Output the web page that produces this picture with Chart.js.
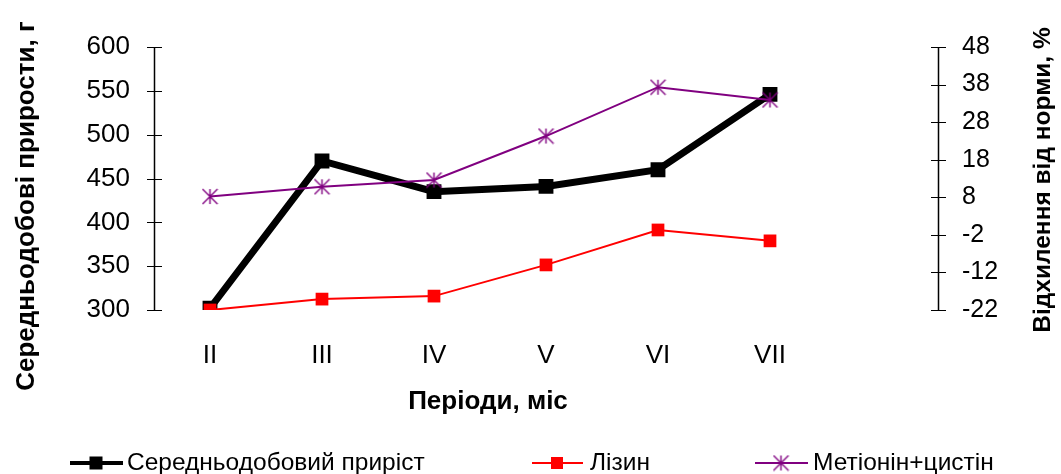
<!DOCTYPE html>
<html>
<head>
<meta charset="utf-8">
<script src="https://cdn.jsdelivr.net/npm/chart.js@4"></script>
<style>
  html, body { margin: 0; padding: 0; background: #fff; }
  #wrap { width: 1061px; height: 474px; position: relative; }
</style>
</head>
<body>
<div id="wrap"><canvas id="chart"></canvas></div>
<script>
// periods (last slot is empty, as in the original sheet)
const periods = ["II", "III", "IV", "V", "VI", "VII", ""]
const dailyGain = [302, 470, 435, 441, 460, 546]
const lysine = [-22, -19.1, -18.3, -10, -0.7, -3.6]
const metCys = [8.2, 10.8, 12.6, 24.3, 37.3, 33.9]
const leftTicks = [300, 350, 400, 450, 500, 550, 600]
const rightTicks = [-22, -12, -2, 8, 18, 28, 38, 48]
const seriesNames = ["Середньодобовий приріст", "Лізин", "Метіонін+цистін"]

const FONT = "'Liberation Sans', Arial, sans-serif"
const purple = "#800080"

// asterisk marker like the spreadsheet one
function makeStar(size, color, lw) {
  const c = document.createElement("canvas")
  c.width = size
  c.height = size
  const g = c.getContext("2d")
  const m = size / 2, r = size / 2 - 1
  g.strokeStyle = color
  g.lineWidth = lw
  g.beginPath()
  g.moveTo(m - r, m - r); g.lineTo(m + r, m + r)
  g.moveTo(m + r, m - r); g.lineTo(m - r, m + r)
  g.moveTo(m, m - r); g.lineTo(m, m + r)
  g.stroke()
  return c
}
const star = makeStar(17, purple, 1.4)

function drawSquare(ctx, x, y, s, color) {
  ctx.fillStyle = color
  ctx.fillRect(x - s / 2, y - s / 2, s, s)
}

const extras = {
  id: "extras",
  afterDraw(chart) {
    const ctx = chart.ctx
    const area = chart.chartArea
    const y = chart.scales.y, y1 = chart.scales.y1
    const lx = Math.round(area.left) + 0.5, rx = Math.round(area.right) + 0.5
    const top = y.getPixelForValue(leftTicks[leftTicks.length - 1])
    const bottom = y.getPixelForValue(leftTicks[0])
    ctx.save()
    ctx.strokeStyle = "#000"

    // value axis lines
    ctx.lineWidth = 1.5
    ctx.beginPath()
    ctx.moveTo(lx, top); ctx.lineTo(lx, bottom)
    ctx.stroke()
    ctx.beginPath()
    ctx.moveTo(rx, top); ctx.lineTo(rx, bottom)
    ctx.stroke()

    // crossing tick marks
    ctx.lineWidth = 1
    ctx.beginPath()
    leftTicks.forEach((v) => {
      const p = Math.round(y.getPixelForValue(v)) + 0.5
      ctx.moveTo(lx - 7.5, p); ctx.lineTo(lx + 7.5, p)
    })
    rightTicks.forEach((v) => {
      const p = Math.round(y1.getPixelForValue(v)) + 0.5
      ctx.moveTo(rx - 7.5, p); ctx.lineTo(rx + 7.5, p)
    })
    ctx.stroke()

    // axis titles
    ctx.fillStyle = "#000"
    ctx.textAlign = "center"
    ctx.textBaseline = "middle"
    ctx.font = "bold 26px " + FONT
    ctx.fillText("Періоди, міс", 488, 402)

    ctx.save()
    ctx.translate(27, 206)
    ctx.rotate(-Math.PI / 2)
    ctx.fillText("Середньодобові прирости, г", 0, 0)
    ctx.restore()

    ctx.font = "bold 24.5px " + FONT
    ctx.save()
    ctx.translate(1043, 180)
    ctx.rotate(-Math.PI / 2)
    ctx.fillText("Відхилення від норми, %", 0, 0)
    ctx.restore()

    // legend
    const ly = 463
    ctx.font = "24.5px " + FONT
    ctx.textAlign = "left"

    ctx.strokeStyle = "#000"; ctx.lineWidth = 4
    ctx.beginPath(); ctx.moveTo(70, ly); ctx.lineTo(123, ly); ctx.stroke()
    drawSquare(ctx, 96, ly, 13, "#000")
    ctx.fillStyle = "#000"
    ctx.fillText(seriesNames[0], 127, ly)

    ctx.strokeStyle = "#ff0000"; ctx.lineWidth = 2
    ctx.beginPath(); ctx.moveTo(532, ly); ctx.lineTo(583, ly); ctx.stroke()
    drawSquare(ctx, 557, ly, 12, "#ff0000")
    ctx.fillStyle = "#000"
    ctx.fillText(seriesNames[1], 590, ly)

    ctx.strokeStyle = purple; ctx.lineWidth = 2
    ctx.beginPath(); ctx.moveTo(755, ly); ctx.lineTo(808, ly); ctx.stroke()
    ctx.drawImage(star, 781 - 8.5, ly - 8.5)
    ctx.fillStyle = "#000"
    ctx.fillText(seriesNames[2], 813, ly)

    ctx.restore()
  },
}

new Chart(document.getElementById("chart"), {
  type: "line",
  data: {
    labels: periods,
    datasets: [
      {
        label: seriesNames[0],
        data: dailyGain,
        yAxisID: "y",
        borderColor: "#000",
        backgroundColor: "#000",
        borderWidth: 7,
        pointStyle: "rect",
        pointRadius: 10.5,
        pointBorderWidth: 0,
        order: 2,
      },
      {
        label: seriesNames[1],
        data: lysine,
        yAxisID: "y1",
        borderColor: "#ff0000",
        backgroundColor: "#ff0000",
        borderWidth: 2,
        pointStyle: "rect",
        pointRadius: 9,
        pointBorderWidth: 0,
        order: 1,
      },
      {
        label: seriesNames[2],
        data: metCys,
        yAxisID: "y1",
        borderColor: purple,
        backgroundColor: purple,
        borderWidth: 2,
        pointStyle: star,
        order: 0,
      },
    ],
  },
  options: {
    responsive: true,
    maintainAspectRatio: false,
    animation: false,
    events: [],
    layout: { padding: { top: 47, left: 0, right: 0, bottom: 0 } },
    plugins: {
      legend: { display: false },
      tooltip: { enabled: false },
    },
    scales: {
      x: {
        type: "category",
        offset: true,
        grid: { display: false },
        border: { display: false },
        ticks: {
          color: "#000",
          font: { family: FONT, size: 26 },
          padding: 22,
          maxRotation: 0,
          autoSkip: false,
        },
        afterFit: (s) => { s.height = 164 },
      },
      y: {
        position: "left",
        min: 300,
        max: 600,
        grid: { display: false },
        border: { display: false },
        ticks: {
          color: "#000",
          font: { family: FONT, size: 26 },
          padding: 16,
        },
        afterBuildTicks: (s) => { s.ticks = leftTicks.map((v) => ({ value: v })) },
        afterFit: (s) => { s.width = 154 },
      },
      y1: {
        position: "right",
        min: -22,
        max: 48,
        grid: { display: false },
        border: { display: false },
        ticks: {
          color: "#000",
          font: { family: FONT, size: 25 },
          padding: 16,
        },
        afterBuildTicks: (s) => { s.ticks = rightTicks.map((v) => ({ value: v })) },
        afterFit: (s) => { s.width = 123 },
      },
    },
  },
  plugins: [extras],
})
</script>
</body>
</html>
